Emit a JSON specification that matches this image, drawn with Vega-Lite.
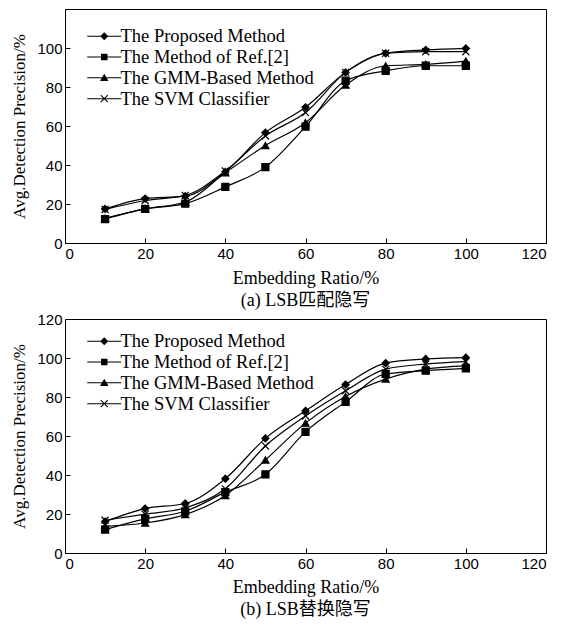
{
  "$schema": "https://vega.github.io/schema/vega-lite/v6.json",
  "background": "white",
  "padding": {"top": 8, "left": 10, "right": 5, "bottom": 5},
  "config": {
    "view": {"stroke": "black", "strokeWidth": 1},
    "axis": {
      "grid": false,
      "domainColor": "black",
      "tickColor": "black",
      "tickSize": -5,
      "labelPadding": 8,
      "labelFont": "Liberation Sans",
      "labelFontSize": 15,
      "labelColor": "black",
      "titleFont": "Liberation Serif",
      "titleFontSize": 18,
      "titleFontWeight": "normal",
      "titleColor": "black"
    },
    "title": {"font": "Liberation Serif, Noto Sans CJK SC", "fontSize": 18, "fontWeight": "normal", "color": "black"},
    "legend": {
      "orient": "none",
      "legendX": 30,
      "legendY": 18,
      "padding": 0,
      "symbolSize": 100,
      "labelOffset": 7,
      "labelLimit": 400,
      "labelFont": "Liberation Serif",
      "labelFontSize": 18.5,
      "labelColor": "black",
      "rowPadding": 1.8,
      "symbolFillColor": "black",
      "symbolStrokeColor": "black",
      "symbolStrokeWidth": 0,
      "symbolOpacity": 1,
      "title": null
    }
  },
  "datasets": {
    "a": [
      {"series": "The Proposed Method", "ratio": 10, "precision": 17.5},
      {"series": "The Proposed Method", "ratio": 20, "precision": 22.8},
      {"series": "The Proposed Method", "ratio": 30, "precision": 24},
      {"series": "The Proposed Method", "ratio": 40, "precision": 36.5},
      {"series": "The Proposed Method", "ratio": 50, "precision": 56.6},
      {"series": "The Proposed Method", "ratio": 60, "precision": 69.6},
      {"series": "The Proposed Method", "ratio": 70, "precision": 87.5},
      {"series": "The Proposed Method", "ratio": 80, "precision": 97.3},
      {"series": "The Proposed Method", "ratio": 90, "precision": 99},
      {"series": "The Proposed Method", "ratio": 100, "precision": 99.8},
      {"series": "The Method of Ref.[2]", "ratio": 10, "precision": 12.3},
      {"series": "The Method of Ref.[2]", "ratio": 20, "precision": 17.5},
      {"series": "The Method of Ref.[2]", "ratio": 30, "precision": 20.2},
      {"series": "The Method of Ref.[2]", "ratio": 40, "precision": 28.8},
      {"series": "The Method of Ref.[2]", "ratio": 50, "precision": 38.9},
      {"series": "The Method of Ref.[2]", "ratio": 60, "precision": 59.7},
      {"series": "The Method of Ref.[2]", "ratio": 70, "precision": 83.2},
      {"series": "The Method of Ref.[2]", "ratio": 80, "precision": 88.3},
      {"series": "The Method of Ref.[2]", "ratio": 90, "precision": 90.9},
      {"series": "The Method of Ref.[2]", "ratio": 100, "precision": 90.9},
      {"series": "The GMM-Based Method", "ratio": 10, "precision": 12.7},
      {"series": "The GMM-Based Method", "ratio": 20, "precision": 17.5},
      {"series": "The GMM-Based Method", "ratio": 30, "precision": 21},
      {"series": "The GMM-Based Method", "ratio": 40, "precision": 36},
      {"series": "The GMM-Based Method", "ratio": 50, "precision": 50},
      {"series": "The GMM-Based Method", "ratio": 60, "precision": 61.7},
      {"series": "The GMM-Based Method", "ratio": 70, "precision": 81},
      {"series": "The GMM-Based Method", "ratio": 80, "precision": 90.9},
      {"series": "The GMM-Based Method", "ratio": 90, "precision": 91.6},
      {"series": "The GMM-Based Method", "ratio": 100, "precision": 93.3},
      {"series": "The SVM Classifier", "ratio": 10, "precision": 17.2},
      {"series": "The SVM Classifier", "ratio": 20, "precision": 21.8},
      {"series": "The SVM Classifier", "ratio": 30, "precision": 24.4},
      {"series": "The SVM Classifier", "ratio": 40, "precision": 36.9},
      {"series": "The SVM Classifier", "ratio": 50, "precision": 54.9},
      {"series": "The SVM Classifier", "ratio": 60, "precision": 66.9},
      {"series": "The SVM Classifier", "ratio": 70, "precision": 87.5},
      {"series": "The SVM Classifier", "ratio": 80, "precision": 97.3},
      {"series": "The SVM Classifier", "ratio": 90, "precision": 98.1},
      {"series": "The SVM Classifier", "ratio": 100, "precision": 98.1}
    ],
    "b": [
      {"series": "The Proposed Method", "ratio": 10, "precision": 16.1},
      {"series": "The Proposed Method", "ratio": 20, "precision": 22.8},
      {"series": "The Proposed Method", "ratio": 30, "precision": 25.4},
      {"series": "The Proposed Method", "ratio": 40, "precision": 38.1},
      {"series": "The Proposed Method", "ratio": 50, "precision": 58.8},
      {"series": "The Proposed Method", "ratio": 60, "precision": 72.9},
      {"series": "The Proposed Method", "ratio": 70, "precision": 86.4},
      {"series": "The Proposed Method", "ratio": 80, "precision": 97.4},
      {"series": "The Proposed Method", "ratio": 90, "precision": 99.5},
      {"series": "The Proposed Method", "ratio": 100, "precision": 100.2},
      {"series": "The Method of Ref.[2]", "ratio": 10, "precision": 12},
      {"series": "The Method of Ref.[2]", "ratio": 20, "precision": 17.5},
      {"series": "The Method of Ref.[2]", "ratio": 30, "precision": 21.4},
      {"series": "The Method of Ref.[2]", "ratio": 40, "precision": 31.2},
      {"series": "The Method of Ref.[2]", "ratio": 50, "precision": 40.3},
      {"series": "The Method of Ref.[2]", "ratio": 60, "precision": 62.1},
      {"series": "The Method of Ref.[2]", "ratio": 70, "precision": 77.5},
      {"series": "The Method of Ref.[2]", "ratio": 80, "precision": 91.8},
      {"series": "The Method of Ref.[2]", "ratio": 90, "precision": 93.5},
      {"series": "The Method of Ref.[2]", "ratio": 100, "precision": 94.7},
      {"series": "The GMM-Based Method", "ratio": 10, "precision": 13.7},
      {"series": "The GMM-Based Method", "ratio": 20, "precision": 15.4},
      {"series": "The GMM-Based Method", "ratio": 30, "precision": 19.7},
      {"series": "The GMM-Based Method", "ratio": 40, "precision": 29.5},
      {"series": "The GMM-Based Method", "ratio": 50, "precision": 47.7},
      {"series": "The GMM-Based Method", "ratio": 60, "precision": 66.6},
      {"series": "The GMM-Based Method", "ratio": 70, "precision": 80.3},
      {"series": "The GMM-Based Method", "ratio": 80, "precision": 89.2},
      {"series": "The GMM-Based Method", "ratio": 90, "precision": 94.3},
      {"series": "The GMM-Based Method", "ratio": 100, "precision": 96},
      {"series": "The SVM Classifier", "ratio": 10, "precision": 16.8},
      {"series": "The SVM Classifier", "ratio": 20, "precision": 19.9},
      {"series": "The SVM Classifier", "ratio": 30, "precision": 23.2},
      {"series": "The SVM Classifier", "ratio": 40, "precision": 32.9},
      {"series": "The SVM Classifier", "ratio": 50, "precision": 54.9},
      {"series": "The SVM Classifier", "ratio": 60, "precision": 70.3},
      {"series": "The SVM Classifier", "ratio": 70, "precision": 83.2},
      {"series": "The SVM Classifier", "ratio": 80, "precision": 94.3},
      {"series": "The SVM Classifier", "ratio": 90, "precision": 96.9},
      {"series": "The SVM Classifier", "ratio": 100, "precision": 98.1}
    ]
  },
  "vconcat": [
    {
      "width": 481,
      "height": 234,
      "data": {"name": "a"},
      "title": {"text": "(a)  LSB匹配隐写", "orient": "bottom", "offset": 5},
      "encoding": {
        "x": {"field": "ratio", "type": "quantitative", "scale": {"domain": [0, 120], "nice": false}, "axis": {"values": [0, 20, 40, 60, 80, 100, 120], "title": "Embedding Ratio/%", "titlePadding": 8}},
        "y": {"field": "precision", "type": "quantitative", "scale": {"domain": [0, 120], "nice": false}, "axis": {"values": [0, 20, 40, 60, 80, 100], "title": "Avg.Detection Precision/%", "titleFontSize": 17, "titlePadding": 8}}
      },
      "layer": [
        {
          "mark": {"type": "line", "interpolate": "monotone", "color": "black", "strokeWidth": 1.2},
          "encoding": {"detail": {"field": "series"}}
        },
        {
          "mark": {"type": "point", "filled": true, "color": "black", "stroke": "black", "strokeWidth": 1.2, "opacity": 1},
          "encoding": {
            "shape": {
              "field": "series",
              "type": "nominal",
              "scale": {"domain": ["The Proposed Method", "The Method of Ref.[2]", "The GMM-Based Method", "The SVM Classifier"], "range": ["diamond", "square", "triangle-up", "M-1,-1L1,1M-1,1L1,-1"]},
              "legend": null
            },
            "size": {"value": 50}
          }
        },
        {
          "transform": [{"filter": "datum.ratio < 0"}],
          "mark": {"type": "point", "filled": true, "color": "black", "opacity": 1},
          "encoding": {
            "shape": {
              "field": "series",
              "type": "nominal",
              "scale": {"domain": ["The Proposed Method", "The Method of Ref.[2]", "The GMM-Based Method", "The SVM Classifier"], "range": [
                "M-3.4,-0.1H3.4V0.1H-3.4ZM0,-0.8L0.8,0L0,0.8L-0.8,0Z",
                "M-3.4,-0.1H3.4V0.1H-3.4ZM-0.65,-0.65H0.65V0.65H-0.65Z",
                "M-3.4,-0.1H3.4V0.1H-3.4ZM0,-0.8L0.85,0.65L-0.85,0.65Z",
                "M-3.4,-0.1H3.4V0.1H-3.4ZM-0.63,-0.77L0.77,0.63L0.63,0.77L-0.77,-0.63ZM-0.63,0.77L-0.77,0.63L0.63,-0.77L0.77,-0.63Z"
              ]},
              "legend": {}
            },
            "size": {"value": 50}
          }
        }
      ],
      "resolve": {"scale": {"shape": "independent"}, "legend": {"shape": "independent"}}
    },
    {
      "width": 481,
      "height": 234,
      "data": {"name": "b"},
      "title": {"text": "(b) LSB替换隐写", "orient": "bottom", "offset": 5},
      "encoding": {
        "x": {"field": "ratio", "type": "quantitative", "scale": {"domain": [0, 120], "nice": false}, "axis": {"values": [0, 20, 40, 60, 80, 100, 120], "title": "Embedding Ratio/%", "titlePadding": 7}},
        "y": {"field": "precision", "type": "quantitative", "scale": {"domain": [0, 120], "nice": false}, "axis": {"values": [0, 20, 40, 60, 80, 100, 120], "title": "Avg.Detection Precision/%", "titleFontSize": 17, "titlePadding": 8}}
      },
      "layer": [
        {
          "mark": {"type": "line", "interpolate": "monotone", "color": "black", "strokeWidth": 1.2},
          "encoding": {"detail": {"field": "series"}}
        },
        {
          "mark": {"type": "point", "filled": true, "color": "black", "stroke": "black", "strokeWidth": 1.2, "opacity": 1},
          "encoding": {
            "shape": {
              "field": "series",
              "type": "nominal",
              "scale": {"domain": ["The Proposed Method", "The Method of Ref.[2]", "The GMM-Based Method", "The SVM Classifier"], "range": ["diamond", "square", "triangle-up", "M-1,-1L1,1M-1,1L1,-1"]},
              "legend": null
            },
            "size": {"value": 50}
          }
        },
        {
          "transform": [{"filter": "datum.ratio < 0"}],
          "mark": {"type": "point", "filled": true, "color": "black", "opacity": 1},
          "encoding": {
            "shape": {
              "field": "series",
              "type": "nominal",
              "scale": {"domain": ["The Proposed Method", "The Method of Ref.[2]", "The GMM-Based Method", "The SVM Classifier"], "range": [
                "M-3.4,-0.1H3.4V0.1H-3.4ZM0,-0.8L0.8,0L0,0.8L-0.8,0Z",
                "M-3.4,-0.1H3.4V0.1H-3.4ZM-0.65,-0.65H0.65V0.65H-0.65Z",
                "M-3.4,-0.1H3.4V0.1H-3.4ZM0,-0.8L0.85,0.65L-0.85,0.65Z",
                "M-3.4,-0.1H3.4V0.1H-3.4ZM-0.63,-0.77L0.77,0.63L0.63,0.77L-0.77,-0.63ZM-0.63,0.77L-0.77,0.63L0.63,-0.77L0.77,-0.63Z"
              ]},
              "legend": {"legendY": 13}
            },
            "size": {"value": 50}
          }
        }
      ],
      "resolve": {"scale": {"shape": "independent"}, "legend": {"shape": "independent"}}
    }
  ],
  "spacing": 0,
  "resolve": {"scale": {"shape": "independent", "x": "independent", "y": "independent"}, "legend": {"shape": "independent"}}
}
